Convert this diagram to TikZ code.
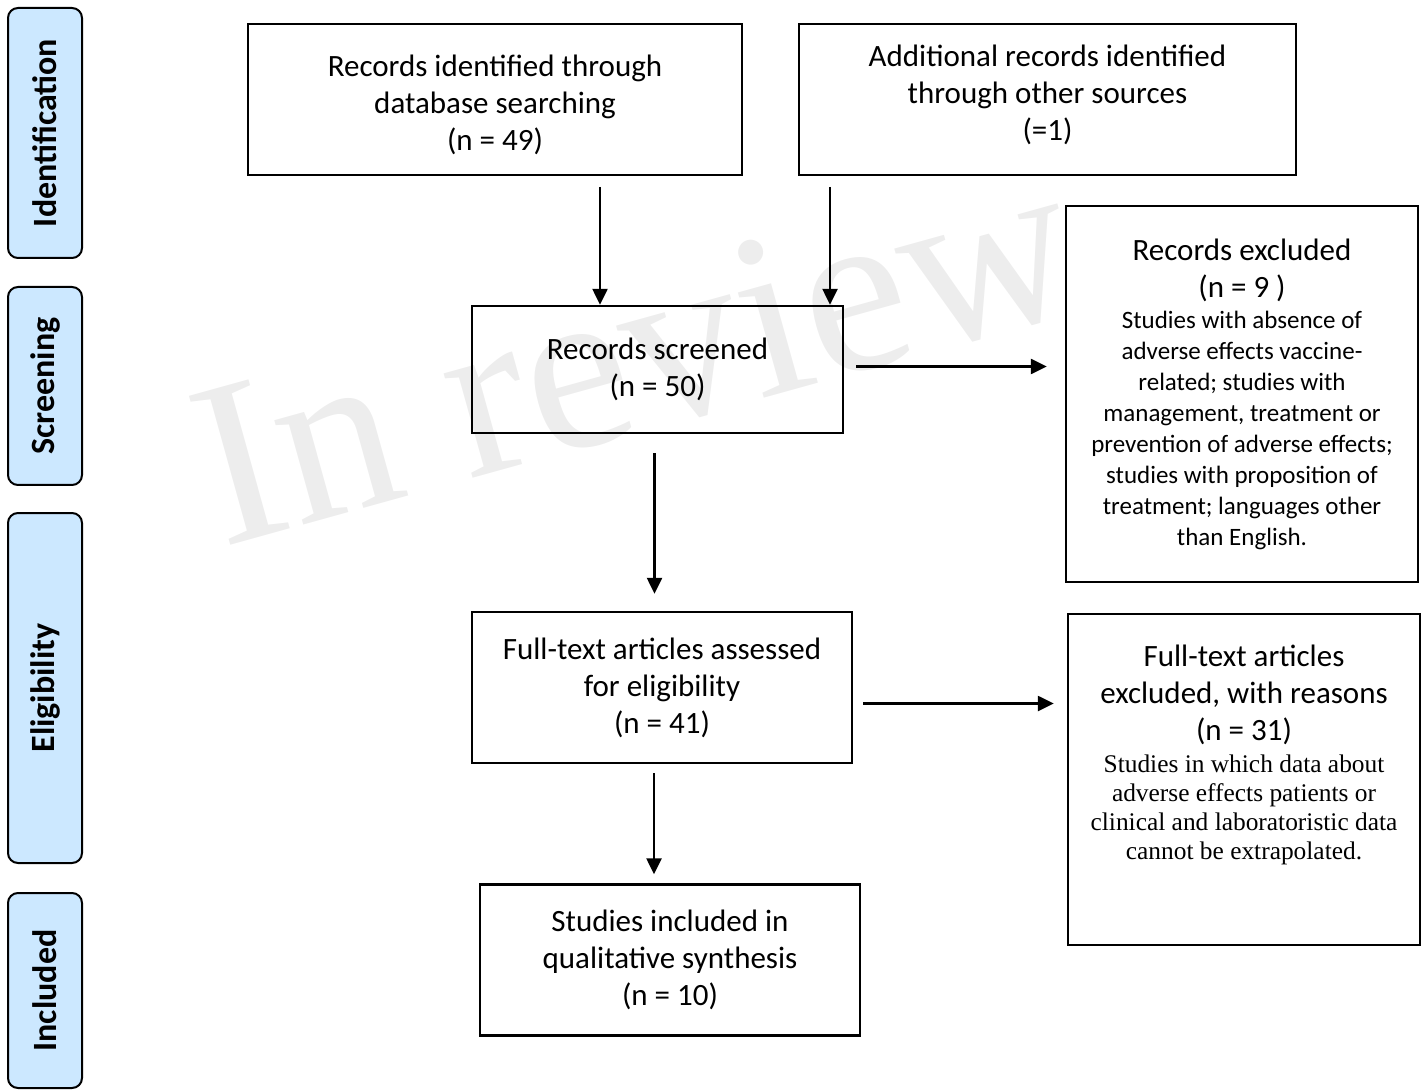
\documentclass[tikz,border=0pt]{standalone}
\usepackage{fontspec}
\setmainfont{Carlito}
\newfontfamily\timesfont{Liberation Serif}
\usetikzlibrary{arrows.meta,positioning}

\definecolor{phaseblue}{RGB}{204,232,255}

% testo allineato in alto: altezza, larghezza, spazio sopra, testo
\newcommand{\toptxt}[4]{\parbox[c][#1][t]{#2}{\centering\vspace{#3}#4\par}}

\tikzset{
    box/.style={draw, line width=1.2pt, align=center, inner sep=0pt,
        font=\fontsize{15.5}{18.5}\selectfont},
    phase/.style={draw, line width=1pt, rounded corners=5pt, fill=phaseblue,
        rotate=90, minimum height=37pt, inner sep=0pt,
        font=\fontsize{17}{20}\selectfont\bfseries},
    arr/.style={line width=1.2pt, -{Triangle[length=8pt,width=7.5pt]}},
}

\begin{document}
\begin{tikzpicture}[x=0.5pt, y=-0.5pt]
    \useasboundingbox (0,0) rectangle (1428,1090);

    % Filigrana
    \node[rotate=15.5, anchor=base west, inner sep=0pt, text=black!7,
        font=\timesfont\fontsize{118}{118}\selectfont] (wm) at (222,548) {In review};

    % Fasi
    \node[phase, minimum width=125pt] (pid) at (45,133) {Identification};
    \node[phase, minimum width=99pt] (pscr) at (45,386) {Screening};
    \node[phase, minimum width=175pt] (pelig) at (45,688) {Eligibility};
    \node[phase, minimum width=97.5pt] (pincl) at (45,990.5) {Included};

    % Riquadri
    \node[box, minimum width=247pt, minimum height=75.5pt] (db) at (495,99.5)
        {\toptxt{75.5pt}{247pt}{15.5pt}{Records identified through\\ database searching\\ (n = 49)}};
    \node[box, minimum width=248.5pt, minimum height=75.5pt] (oth) at (1047.5,99.5)
        {\toptxt{75.5pt}{248.5pt}{10.3pt}{Additional records identified\\ through other sources\\ (=1)}};
    \node[box, minimum width=185.5pt, minimum height=63.5pt] (scr) at (657.5,369.5)
        {Records screened\\ (n = 50)};
    \node[box, fill=white, minimum width=176pt, minimum height=188pt] (exc1) at (1242,394)
        {\parbox{176pt}{\centering
         Records excluded\\ (n = 9 )\par
         \fontsize{12.5}{15.5}\selectfont Studies with absence of\\ adverse effects vaccine-\\ related; studies with\\
         management, treatment or\\ prevention of adverse effects;\\ studies with proposition of\\
         treatment; languages other\\ than English.\par}};
    \node[box, minimum width=190pt, minimum height=75.5pt] (ful) at (662,687.5)
        {Full-text articles assessed\\ for eligibility\\ (n = 41)};
    \node[box, minimum width=176pt, minimum height=165.5pt] (exc2) at (1244,779.5)
        {\toptxt{165.5pt}{176pt}{15.5pt}{Full-text articles\\ excluded, with reasons\\ (n = 31)\par\vspace{1.5pt}
         \timesfont\fontsize{12.7}{14.5}\selectfont Studies in which data about\\ adverse effects patients or\\
         clinical and laboratoristic data\\ cannot be extrapolated.}};
    \node[box, minimum width=190pt, minimum height=75.5pt] (inc) at (670,960)
        {Studies included in\\ qualitative synthesis\\ (n = 10)};

    % Frecce
    \coordinate (s1) at (600,187);
    \coordinate (s2) at (830,187);
    \draw[arr] (s1) -- (s1 |- scr.north);
    \draw[arr] (s2) -- (s2 |- scr.north);
    \draw[arr, shorten <=6pt, shorten >=9pt] ([yshift=1.5pt]scr.east) -- ([yshift=1.5pt]scr.east -| exc1.west);
    \draw[arr, shorten <=9.5pt, shorten >=8.5pt] ([xshift=-1.5pt]scr.south) -- ([xshift=-1.5pt]scr.south |- ful.north);
    \draw[arr, shorten <=5pt, shorten >=6.5pt] ([yshift=-8pt]ful.east) -- ([yshift=-8pt]ful.east -| exc2.west);
    \draw[arr, shorten <=4.5pt, shorten >=4.5pt] ([xshift=-4pt]ful.south) -- ([xshift=-4pt]ful.south |- inc.north);
\end{tikzpicture}
\end{document}
